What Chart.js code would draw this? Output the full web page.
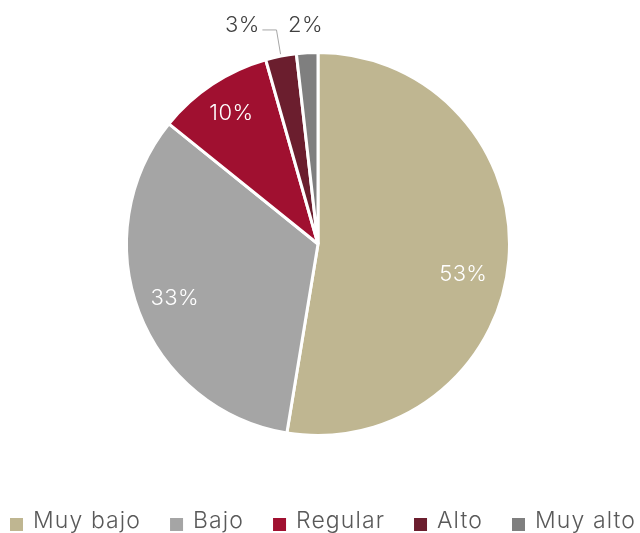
<!DOCTYPE html>
<html>
<head>
<meta charset="utf-8">
<script src="https://cdn.jsdelivr.net/npm/chart.js@4/dist/chart.umd.min.js"></script>
<style>
html,body{margin:0;padding:0;background:#fff;}
#wrap{width:640px;height:533px;position:relative;}
</style>
</head>
<body>
<div id="wrap"><canvas id="c" width="640" height="533"></canvas></div>
<script>
const categories = ['Muy bajo', 'Bajo', 'Regular', 'Alto', 'Muy alto'];
const values = [52.6, 33.2, 9.8, 2.6, 1.8];
const colors = ['#BFB691', '#A5A5A5', '#A01030', '#6B1E2E', '#7F7F7F'];

const FONT = 'Inter, "Open Sans", sans-serif';
// label placement tweaks (style only)
const labelAngleShift = [0.124, 0, 0, 0, 0];
const labelRadiusFrac = [0.775, 0.8, 0.82, 1.15, 1.15];

const labelPlugin = {
  id: 'sliceLabels',
  afterDatasetsDraw(chart) {
    const ctx = chart.ctx;
    const meta = chart.getDatasetMeta(0);
    ctx.save();
    ctx.font = '300 22px ' + FONT;
    ctx.textAlign = 'center';
    ctx.textBaseline = 'middle';
    try { ctx.letterSpacing = '0.4px'; } catch (e) {}
    meta.data.forEach((arc, i) => {
      const p = arc.getProps(['x', 'y', 'startAngle', 'endAngle', 'outerRadius'], true);
      const mid = (p.startAngle + p.endAngle) / 2 + labelAngleShift[i];
      const v = values[i];
      const txt = Math.round(v) + '%';
      const cos = Math.cos(mid), sin = Math.sin(mid);
      const r = p.outerRadius * labelRadiusFrac[i];
      if (v >= 5) {
        ctx.fillStyle = '#FFFFFF';
        ctx.fillText(txt, p.x + cos * r, p.y + sin * r);
      } else {
        let lx = p.x + cos * r, ly = p.y + sin * r;
        if (i === 3) {
          lx -= 33; ly -= 4;
          const ax = p.x + cos * (p.outerRadius + 2), ay = p.y + sin * (p.outerRadius + 2);
          const bx = p.x + cos * p.outerRadius * 1.12, by = ly + 6;
          ctx.strokeStyle = '#A6A6A6';
          ctx.lineWidth = 1;
          ctx.beginPath();
          ctx.moveTo(lx + 20, by);
          ctx.lineTo(bx, by);
          ctx.lineTo(ax, ay);
          ctx.stroke();
        }
        ctx.fillStyle = '#404040';
        ctx.fillText(txt, lx, ly + 1);
      }
    });
    ctx.restore();
  }
};

const legendPlugin = {
  id: 'bottomLegend',
  afterDraw(chart) {
    const ctx = chart.ctx;
    ctx.save();
    ctx.font = '300 23px ' + FONT;
    ctx.textBaseline = 'alphabetic';
    ctx.textAlign = 'left';
    try { ctx.letterSpacing = '1.1px'; } catch (e) {}
    let x = 10;
    const base = 528;
    const bg = chart.data.datasets[0].backgroundColor;
    chart.data.labels.forEach((lab, i) => {
      ctx.fillStyle = bg[i];
      ctx.fillRect(x, 518, 13, 13);
      x += 13 + 10;
      ctx.fillStyle = '#595959';
      ctx.fillText(lab, x, base);
      x += ctx.measureText(lab).width + 29;
    });
    ctx.restore();
  }
};

new Chart(document.getElementById('c'), {
  type: 'pie',
  data: {
    labels: categories,
    datasets: [{
      data: values,
      backgroundColor: colors,
      borderColor: '#FFFFFF',
      borderWidth: 3
    }]
  },
  options: {
    responsive: false,
    animation: false,
    layout: { padding: { top: 51, bottom: 96, left: 0, right: 4 } },
    plugins: {
      legend: { display: false },
      tooltip: { enabled: false }
    }
  },
  plugins: [labelPlugin, legendPlugin]
});
</script>
</body>
</html>
